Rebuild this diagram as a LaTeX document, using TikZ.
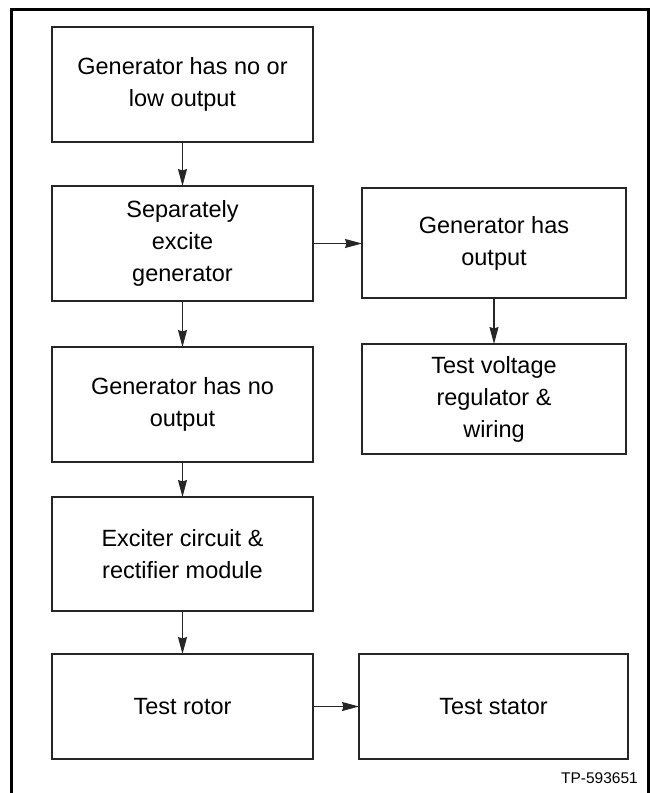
\documentclass[tikz,border=0pt]{standalone}
\usepackage{fontspec}
\setmainfont{Liberation Sans}
\usetikzlibrary{arrows.meta}
\begin{document}
\begin{tikzpicture}[x=1pt,y=-1pt,
  box/.style={draw=black!85, line width=1.3pt, minimum width=261pt, align=center,
    font=\fontsize{23.5}{32}\selectfont, inner sep=0pt, outer sep=0pt},
  conn/.style={draw=black!85, line width=1.2pt, -{Stealth[length=17pt,width=9pt,inset=1.5pt]}}]
\useasboundingbox (0,0) rectangle (650,793);
\draw[line width=3pt, line join=miter] (11,793) -- (11,9.5) -- (648,9.5) -- (648,793);
\node[box, minimum height=115pt] (b1) at (182.5,84.5) {Generator has no or\\low output};
\node[box, minimum height=115pt] (b2) at (182.5,243.5) {Separately\\excite\\generator};
\node[box, minimum height=115pt] (b5) at (182.5,404.5) {Generator has no\\output};
\node[box, minimum height=114pt] (b6) at (182.5,554) {Exciter circuit \&\\rectifier module};
\node[box, minimum height=105pt] (b7) at (182.5,706.5) {Test rotor};
\node[box, minimum width=264pt, minimum height=110pt] (b3) at (494,243) {Generator has\\output};
\node[box, minimum width=264pt, minimum height=110pt] (b4) at (494,399) {Test voltage\\regulator \&\\wiring};
\node[box, minimum width=269pt, minimum height=105pt] (b8) at (493.5,706.5) {Test stator};
\node[anchor=base east, font=\fontsize{15.5}{18}\selectfont, inner sep=0pt] (tp) at (638,783) {TP-593651};
\draw[conn] (b1) -- (b2);
\draw[conn] (b2) -- (b5);
\draw[conn] (b5) -- (b6);
\draw[conn] (b6) -- (b7);
\draw[conn] (b2.east) -- (b3.west |- b2.east);
\draw[conn] (b3) -- (b4);
\draw[conn] (b7) -- (b8);
\end{tikzpicture}
\end{document}
